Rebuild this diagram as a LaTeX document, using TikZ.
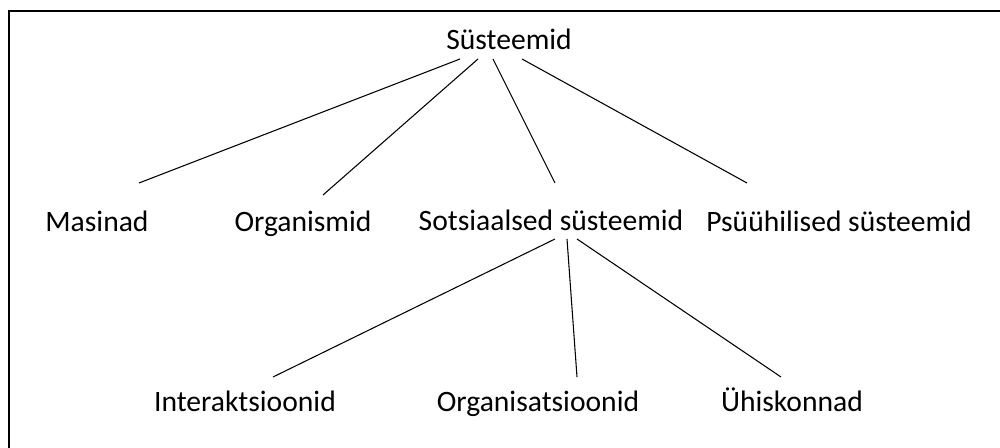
\documentclass[tikz,border=0pt]{standalone}
\usepackage{fontspec}
\setmainfont{Carlito}
\begin{document}
\begin{tikzpicture}[x=0.75pt,y=-0.75pt,
  lbl/.style={anchor=base,inner sep=0pt,font=\fontsize{22.2}{27}\selectfont},
  conn/.style={draw=black,line width=0.8pt},
  frame/.style={draw=black,line width=1.6pt}]
\useasboundingbox (0,0) rectangle (1000,448);
\draw[frame] (9,460) -- (9,11) -- (1010,11);
% nodes
\node[lbl] (sys) at (509,50) {Süsteemid};
\node[lbl] (mas) at (97,232) {Masinad};
\node[lbl] (org) at (303,232) {Organismid};
\node[lbl] (sots) at (551,231) {Sotsiaalsed süsteemid};
\node[lbl] (psy) at (839,232) {Psüühilised süsteemid};
\node[lbl] (int) at (245,412) {Interaktsioonid};
\node[lbl] (orgs) at (538,412) {Organisatsioonid};
\node[lbl] (yhis) at (792,412) {Ühiskonnad};
% connector end points
\coordinate (s1) at (460,59);
\coordinate (s2) at (478,59);
\coordinate (s3) at (493,59);
\coordinate (s4) at (522,59);
\coordinate (m1) at (139,183);
\coordinate (o1) at (323,195);
\coordinate (t1) at (555,183);
\coordinate (p1) at (747,183);
\coordinate (u1) at (555,239);
\coordinate (u2) at (567,239);
\coordinate (u3) at (577,239);
\coordinate (i1) at (273,377);
\coordinate (g1) at (577,377);
\coordinate (h1) at (781,377);
\draw[conn] (s1) -- (m1);
\draw[conn] (s2) -- (o1);
\draw[conn] (s3) -- (t1);
\draw[conn] (s4) -- (p1);
\draw[conn] (u1) -- (i1);
\draw[conn] (u2) -- (g1);
\draw[conn] (u3) -- (h1);
\end{tikzpicture}
\end{document}
